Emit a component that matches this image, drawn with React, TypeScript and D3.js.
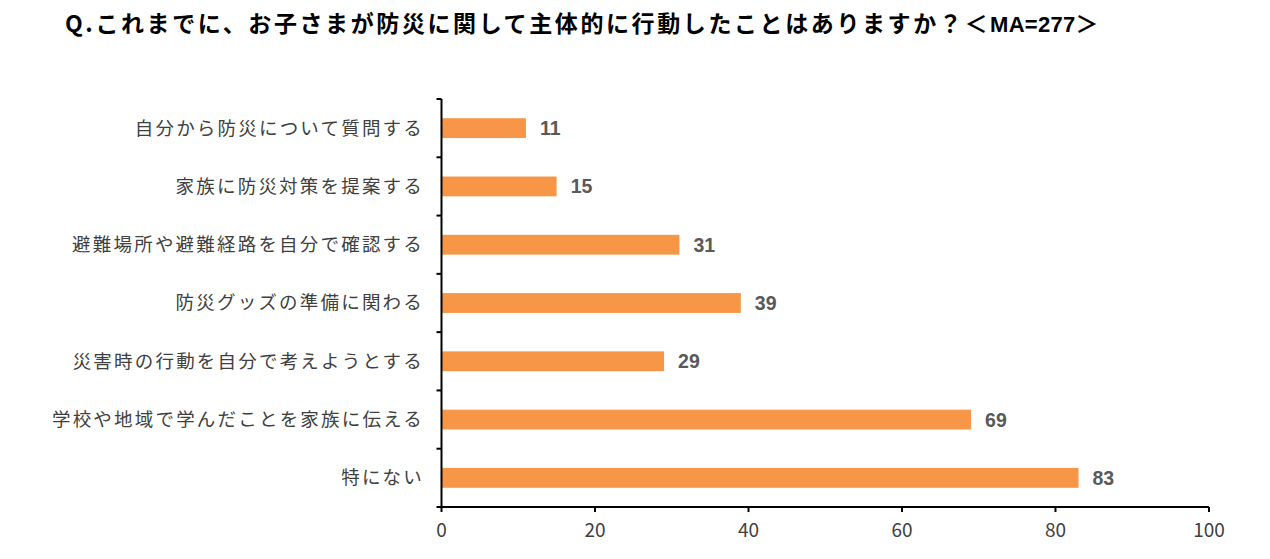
import React from 'react';
import * as d3 from 'd3';

const titleMain = 'Q.これまでに、お子さまが防災に関して主体的に行動したことはありますか？＜';
const titleTail = 'MA=277';

const categories = [
  '自分から防災について質問する',
  '家族に防災対策を提案する',
  '避難場所や避難経路を自分で確認する',
  '防災グッズの準備に関わる',
  '災害時の行動を自分で考えようとする',
  '学校や地域で学んだことを家族に伝える',
  '特にない',
];
const values = [11, 15, 31, 39, 29, 69, 83];
const xTicks = [0, 20, 40, 60, 80, 100];

const W = 1270;
const H = 559;
const plot = { left: 441.5, right: 1209, top: 99, bottom: 507 };
const font = '"Noto Sans CJK JP", "Noto Sans", sans-serif';
const numFont = '"Liberation Sans", Arial, sans-serif';

export default function App() {
  const x = d3.scaleLinear().domain([0, 100]).range([plot.left, plot.right]);
  const y = d3.scaleBand<number>()
    .domain(d3.range(categories.length))
    .range([plot.top, plot.bottom])
    .paddingInner(0.66)
    .paddingOuter(0.33);
  const bounds = d3.range(categories.length + 1).map(i => plot.top + (i * (plot.bottom - plot.top)) / categories.length);

  return (
    <svg width={W} height={H} style={{ display: 'block', position: 'absolute', left: 0, top: 0 }} fontFamily={font}>
      <rect width={W} height={H} fill="#fff" />
      <text x={65} y={32} fontSize={23} fontWeight="bold" fill="#000">
        <tspan letterSpacing={2.6}>{titleMain}</tspan>
        <tspan fontFamily={numFont} fontSize={22} letterSpacing={0.3}>{titleTail}</tspan>
        <tspan>＞</tspan>
      </text>

      {values.map((v, i) => (
        <g key={i}>
          <rect x={x(0)} y={y(i)} width={x(v) - x(0)} height={y.bandwidth()} fill="#F79646" />
          <text x={x(v) + 14} y={y(i)! + y.bandwidth() / 2} dy="0.36em" fontSize={19.5} fontFamily={numFont} fontWeight="bold" fill="#595959">{v}</text>
          <text x={424} y={y(i)! + y.bandwidth() / 2} dy="0.35em" textAnchor="end" fontSize={18.5} letterSpacing={2.2} fill="#404040">{categories[i]}</text>
        </g>
      ))}

      <line x1={plot.left} x2={plot.left} y1={plot.top} y2={plot.bottom} stroke="#000" strokeWidth={2} />
      {bounds.map((b, i) => (
        <line key={i} x1={plot.left - 5} x2={plot.left} y1={b} y2={b} stroke="#000" strokeWidth={2} />
      ))}
      <line x1={plot.left} x2={plot.right} y1={plot.bottom} y2={plot.bottom} stroke="#000" strokeWidth={2} />
      {xTicks.map(t => (
        <g key={t}>
          <line x1={x(t)} x2={x(t)} y1={plot.bottom} y2={plot.bottom + 5} stroke="#000" strokeWidth={2} />
          <text x={x(t)} y={537} textAnchor="middle" fontSize={19} fill="#404040">{t}</text>
        </g>
      ))}
    </svg>
  );
}
